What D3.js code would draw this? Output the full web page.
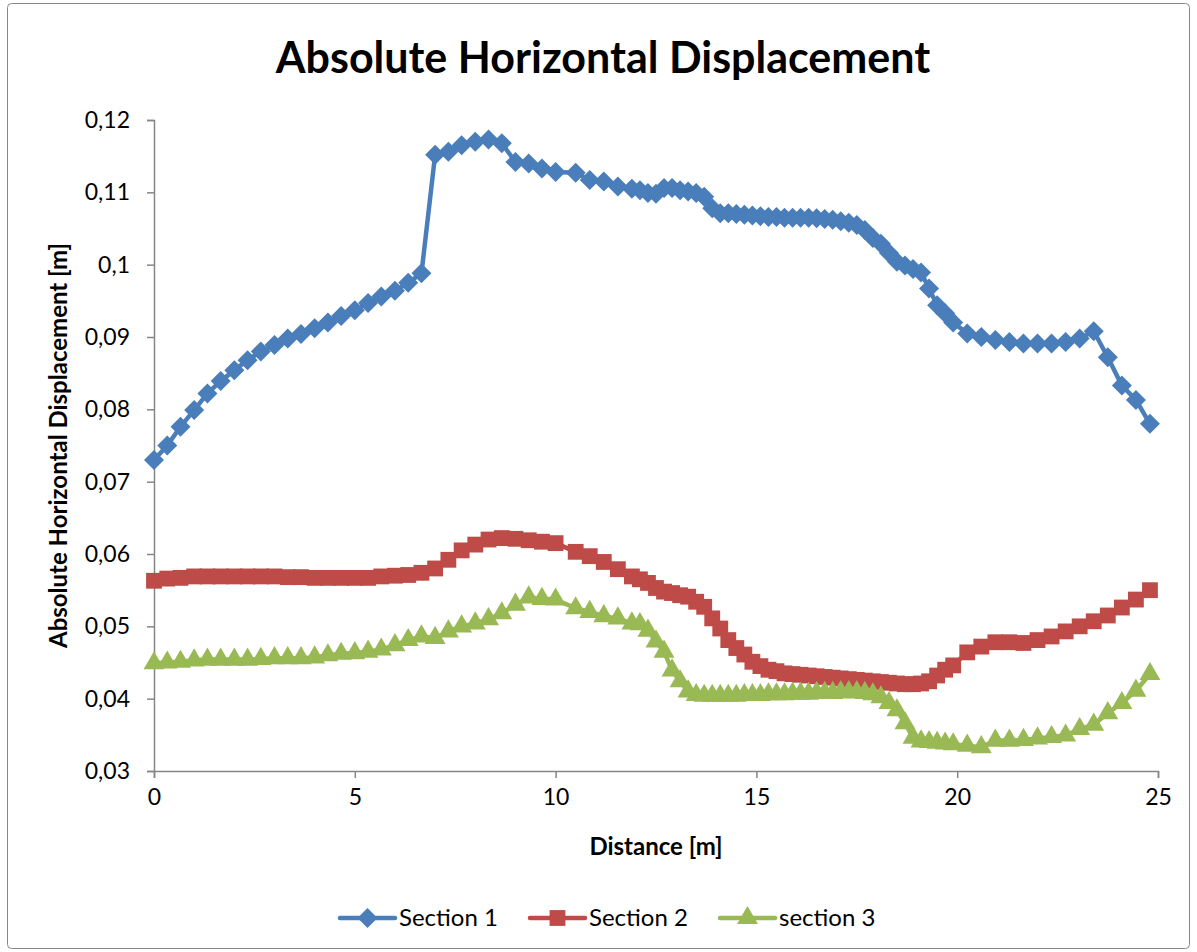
<!DOCTYPE html>
<html>
<head>
<meta charset="utf-8">
<script src="https://cdn.jsdelivr.net/npm/d3@7"></script>
<style>
  body { margin: 0; background: #fff; }
  svg { display: block; font-family: Lato, "Open Sans", sans-serif; }
</style>
</head>
<body>
<svg id="chart"></svg>
<script>
const distance = [
  0, 0.33, 0.66, 1.0, 1.33, 1.66, 2.0, 2.33, 2.66, 3.0,
  3.33, 3.66, 4.0, 4.33, 4.66, 5.0, 5.33, 5.66, 6.0, 6.33,
  6.66, 7.0, 7.33, 7.66, 8.0, 8.33, 8.66, 9.0, 9.33, 9.66, 10.0,
  10.5, 10.85, 11.2, 11.55, 11.9,
  12.1, 12.3, 12.5, 12.7, 12.9, 13.1, 13.3, 13.5, 13.7, 13.9,
  14.1, 14.3, 14.5, 14.7, 14.9, 15.1, 15.3, 15.5, 15.7, 15.9,
  16.1, 16.3, 16.5, 16.7, 16.9, 17.1, 17.3, 17.5, 17.7, 17.9,
  18.1, 18.3, 18.5, 18.7, 18.9, 19.1, 19.3, 19.5, 19.7, 19.9,
  20.25, 20.6, 20.95, 21.3, 21.65, 22.0, 22.35, 22.7, 23.05, 23.4,
  23.75, 24.1, 24.45, 24.8
];

const section1 = [
  0.0730, 0.0750, 0.0776, 0.0799, 0.0822, 0.0839, 0.0854, 0.0868, 0.0880, 0.0889,
  0.0898, 0.0904, 0.0912, 0.0920, 0.0929, 0.0937, 0.0947, 0.0956, 0.0964, 0.0975,
  0.0988, 0.1152, 0.1156, 0.1165, 0.1170, 0.1173, 0.1168, 0.1142, 0.1140, 0.1133, 0.1128,
  0.1127, 0.1117, 0.1115, 0.1108, 0.1105,
  0.1103, 0.1099, 0.1098, 0.1106, 0.1106, 0.1103, 0.1101, 0.1099, 0.1094, 0.1078,
  0.1071, 0.1071, 0.1070, 0.1069, 0.1068, 0.1067, 0.1066, 0.1066, 0.1065, 0.1065,
  0.1065, 0.1065, 0.1064, 0.1063, 0.1062, 0.1060, 0.1058, 0.1055, 0.1048, 0.1037,
  0.1029, 0.1016, 0.1004, 0.0999, 0.0994, 0.0989, 0.0967, 0.0944, 0.0933, 0.0920,
  0.0905, 0.0900, 0.0896, 0.0893, 0.0891, 0.0891, 0.0891, 0.0893, 0.0898, 0.0908,
  0.0872, 0.0833, 0.0813, 0.0780
];

const section2 = [
  0.0563, 0.0566, 0.0567, 0.0569, 0.0569, 0.0569, 0.0569, 0.0569, 0.0569, 0.0569,
  0.0568, 0.0568, 0.0567, 0.0567, 0.0567, 0.0567, 0.0567, 0.0569, 0.0570, 0.0571,
  0.0574, 0.0580, 0.0592, 0.0605, 0.0613, 0.0620, 0.0622, 0.0621, 0.0619, 0.0617, 0.0615,
  0.0603, 0.0597, 0.0589, 0.0579, 0.0569,
  0.0565, 0.0560, 0.0553, 0.0548, 0.0546, 0.0543, 0.0541, 0.0534, 0.0527, 0.0511,
  0.0497, 0.0481, 0.0470, 0.0461, 0.0451, 0.0445, 0.0440, 0.0438, 0.0435, 0.0434,
  0.0433, 0.0432, 0.0431, 0.0430, 0.0429, 0.0428, 0.0427, 0.0426, 0.0425, 0.0424,
  0.0423, 0.0422, 0.0421, 0.0420, 0.0420, 0.0421, 0.0424, 0.0432, 0.0440, 0.0446,
  0.0464, 0.0472, 0.0478, 0.0478, 0.0477, 0.0481, 0.0486, 0.0493, 0.0500, 0.0507,
  0.0515, 0.0526, 0.0537, 0.0550
];

const section3 = [
  0.0449, 0.0450, 0.0451, 0.0453, 0.0454, 0.0454, 0.0454, 0.0454, 0.0455, 0.0456,
  0.0456, 0.0456, 0.0457, 0.0460, 0.0462, 0.0463, 0.0465, 0.0468, 0.0474, 0.0481,
  0.0486, 0.0484, 0.0493, 0.0500, 0.0504, 0.0510, 0.0518, 0.0530, 0.0540, 0.0538, 0.0537,
  0.0525, 0.0520, 0.0514, 0.0511, 0.0504,
  0.0503, 0.0494, 0.0479, 0.0465, 0.0439, 0.0424, 0.0410, 0.0405, 0.0404, 0.0404,
  0.0404, 0.0404, 0.0404, 0.0405, 0.0405, 0.0405, 0.0406, 0.0406, 0.0406, 0.0407,
  0.0407, 0.0407, 0.0408, 0.0408, 0.0408, 0.0409, 0.0409, 0.0409, 0.0408, 0.0406,
  0.0402, 0.0394, 0.0384, 0.0366, 0.0346, 0.0341, 0.0340, 0.0339, 0.0338, 0.0337,
  0.0335, 0.0333, 0.0342, 0.0342, 0.0343, 0.0345, 0.0347, 0.0349, 0.0358, 0.0364,
  0.0380, 0.0394, 0.0411, 0.0434
];

const seriesNames = ["Section 1", "Section 2", "section 3"];
const xTicks = [0, 5, 10, 15, 20, 25];
const yTicks = [0.03, 0.04, 0.05, 0.06, 0.07, 0.08, 0.09, 0.1, 0.11, 0.12];

const width = 1197;
const height = 952;
const margin = { top: 120, right: 39, bottom: 181, left: 154 };

const series = [
  { name: seriesNames[0], values: section1, color: "#4a7ebb", symbol: d3.symbolSquare, size: 200, rotate: 45 },
  { name: seriesNames[1], values: section2, color: "#be4b48", symbol: d3.symbolSquare, size: 250, rotate: 0 },
  { name: seriesNames[2], values: section3, color: "#98b954", symbol: d3.symbolTriangle, size: 190, rotate: 0 }
];

const svg = d3.select("#chart").attr("width", width).attr("height", height);

svg.append("rect")
  .attr("width", width).attr("height", height).attr("fill", "#fff");

// chart border
svg.append("rect")
  .attr("x", 7.5).attr("y", 3.5)
  .attr("width", width - 15).attr("height", height - 7)
  .attr("rx", 4)
  .attr("fill", "none")
  .attr("stroke", "#888")
  .attr("stroke-width", 1);

const xScale = d3.scaleLinear()
  .domain([0, 25])
  .range([margin.left, width - margin.right]);

const yScale = d3.scaleLinear()
  .domain([0.03, 0.12])
  .range([height - margin.bottom, margin.top]);

const fmt = (d) => String(+d.toFixed(2)).replace(".", ",");

// x axis
const xAxis = svg.append("g")
  .attr("transform", `translate(0,${height - margin.bottom})`)
  .call(d3.axisBottom(xScale).tickValues(xTicks).tickSize(7).tickPadding(11));

// y axis
const yAxis = svg.append("g")
  .attr("transform", `translate(${margin.left},0)`)
  .call(d3.axisLeft(yScale).tickValues(yTicks).tickFormat(fmt).tickSize(7).tickPadding(17));

[xAxis, yAxis].forEach((g) => {
  g.select(".domain").attr("stroke", "#868686").attr("stroke-width", 1.5);
  g.selectAll(".tick line").attr("stroke", "#868686").attr("stroke-width", 1.5);
  g.selectAll(".tick text")
    .attr("fill", "#000")
    .style("font-size", "23px")
    .style("font-family", "Lato, 'Open Sans', sans-serif");
});

const line = d3.line()
  .x((d, i) => xScale(distance[i]))
  .y((d) => yScale(d));

series.forEach((s) => {
  const g = svg.append("g");
  g.append("path")
    .datum(s.values)
    .attr("fill", "none")
    .attr("stroke", s.color)
    .attr("stroke-width", 4.5)
    .attr("stroke-linejoin", "round")
    .attr("d", line);

  g.selectAll("path.marker")
    .data(s.values)
    .join("path")
    .attr("class", "marker")
    .attr("d", d3.symbol().type(s.symbol).size(s.size))
    .attr("transform", (d, i) => `translate(${xScale(distance[i])},${yScale(d)}) rotate(${s.rotate})`)
    .attr("fill", s.color);
});

// title
svg.append("text")
  .attr("x", 603)
  .attr("y", 73)
  .attr("text-anchor", "middle")
  .style("font-size", "43px")
  .style("font-weight", "bold")
  .text("Absolute Horizontal Displacement");

// axis titles
svg.append("text")
  .attr("x", (xScale(0) + xScale(25)) / 2)
  .attr("y", 855)
  .attr("text-anchor", "middle")
  .style("font-size", "24px")
  .style("font-weight", "bold")
  .text("Distance [m]");

svg.append("text")
  .attr("transform", `translate(67,${(yScale(0.03) + yScale(0.12)) / 2}) rotate(-90)`)
  .attr("text-anchor", "middle")
  .style("font-size", "24px")
  .style("font-weight", "bold")
  .text("Absolute Horizontal Displacement [m]");

// legend
const legendX = [340, 530, 720];
const legend = svg.append("g").attr("transform", "translate(0,918)");
series.forEach((s, i) => {
  const g = legend.append("g").attr("transform", `translate(${legendX[i]},0)`);
  g.append("line")
    .attr("x1", 0).attr("x2", 55)
    .attr("stroke", s.color)
    .attr("stroke-width", 4.5)
    .attr("stroke-linecap", "round");
  g.append("path")
    .attr("d", d3.symbol().type(s.symbol).size(s.size))
    .attr("transform", `translate(27.5,0) rotate(${s.rotate})`)
    .attr("fill", s.color);
  g.append("text")
    .attr("x", 59)
    .attr("y", 8)
    .style("font-size", "24px")
    .text(s.name);
});
</script>
</body>
</html>
